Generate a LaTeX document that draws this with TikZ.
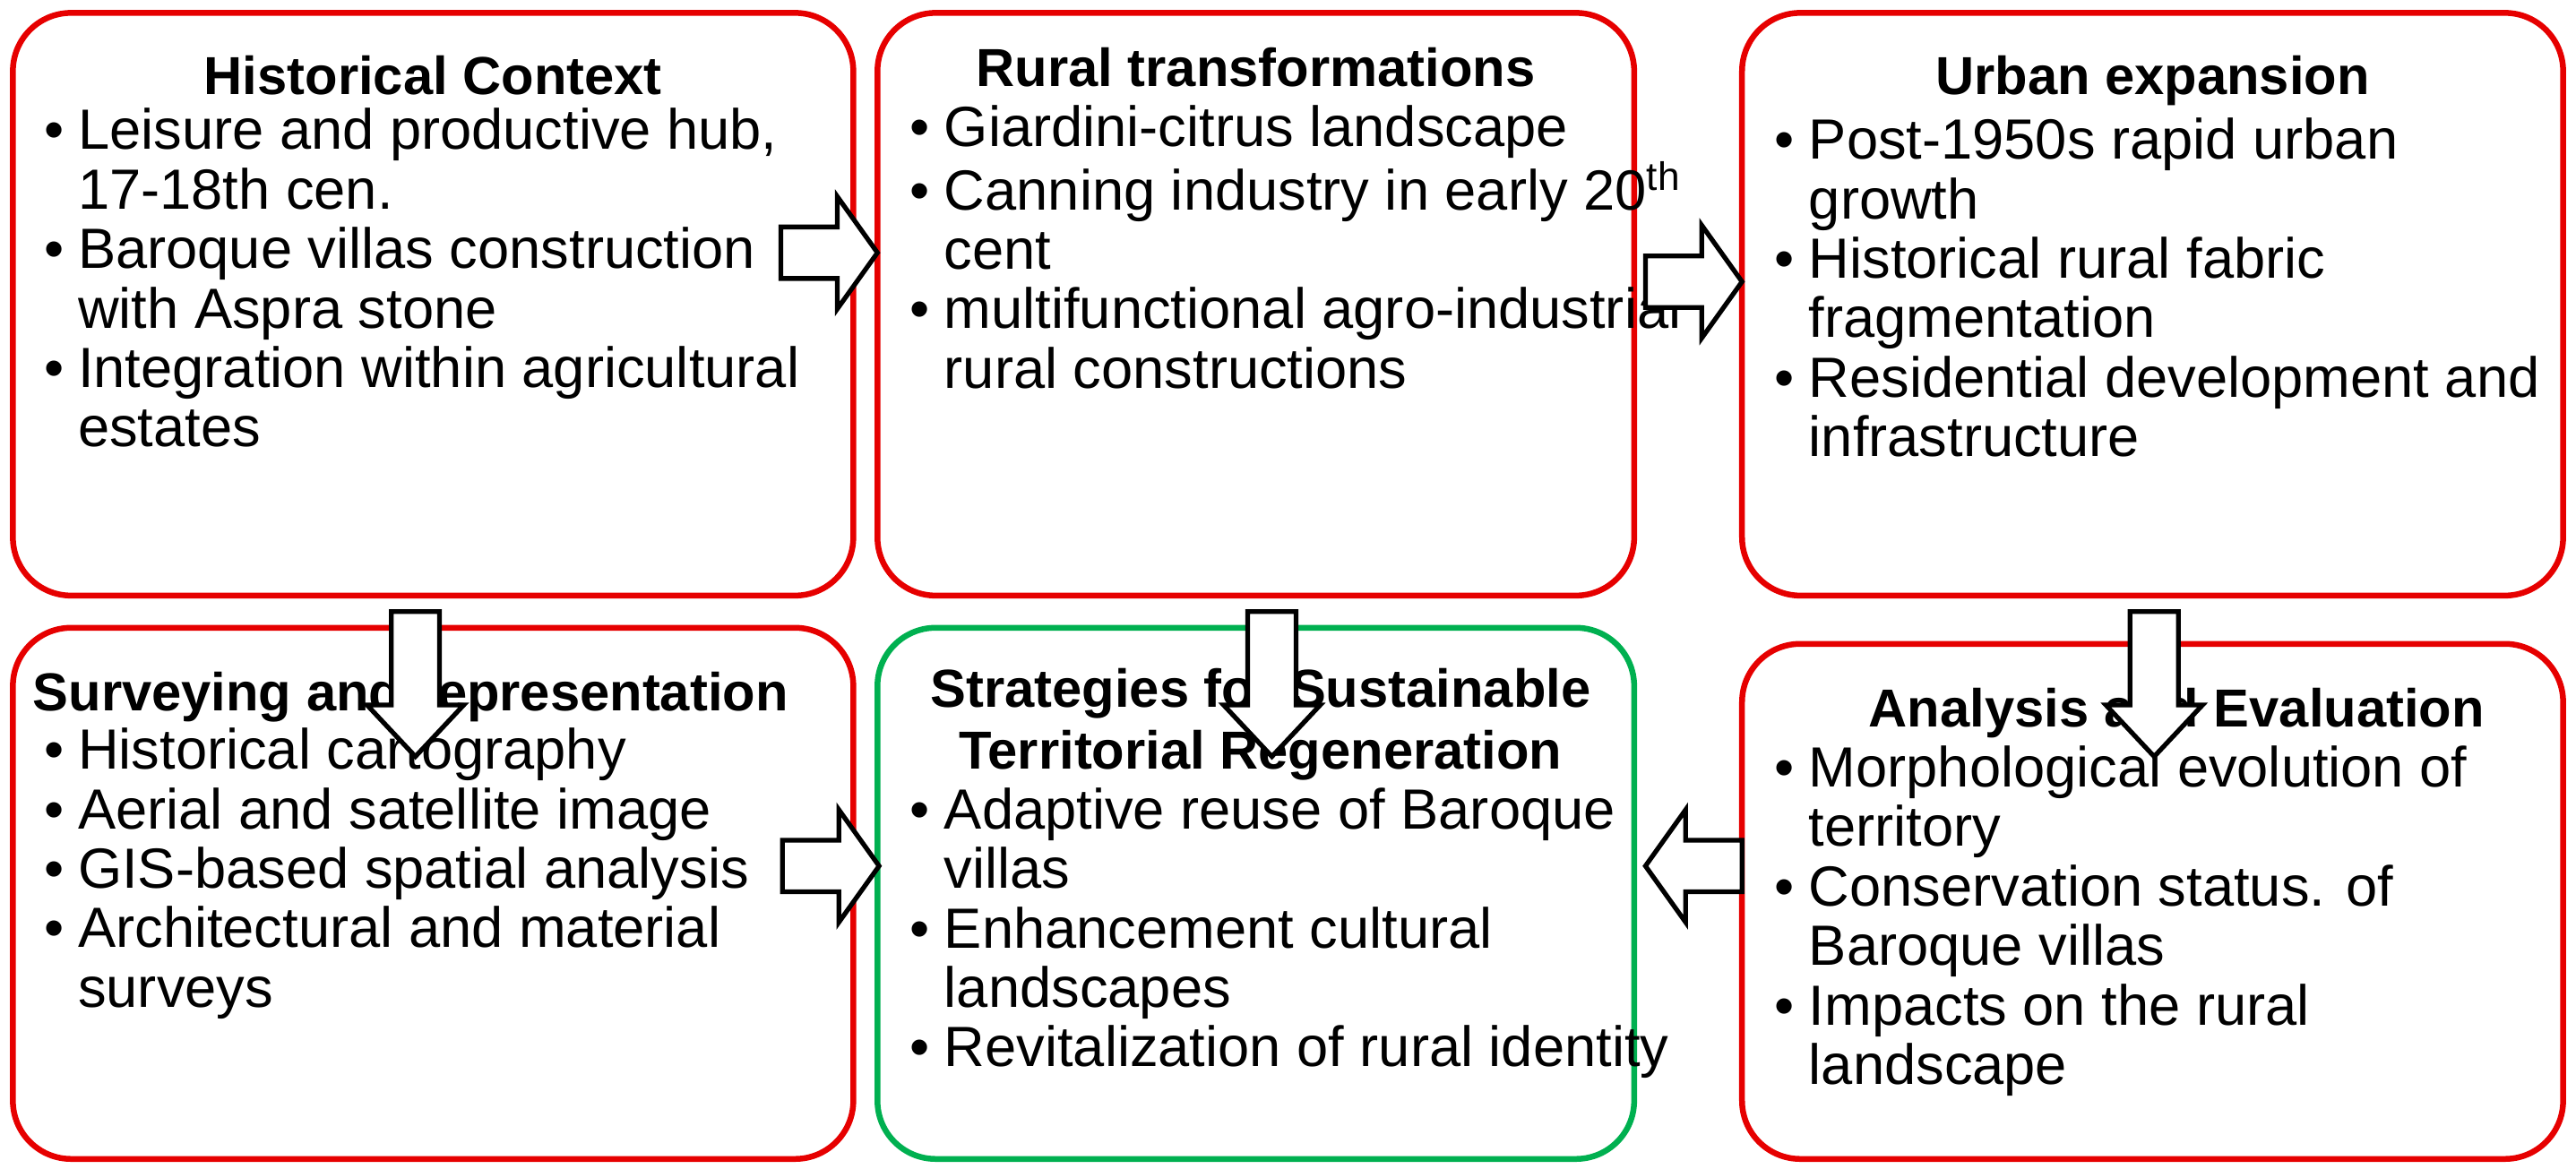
\documentclass[tikz,border=0pt]{standalone}
\usepackage{fontspec}
\setmainfont{Liberation Sans}
\definecolor{bred}{RGB}{230,0,0}
\definecolor{bgreen}{RGB}{0,176,80}
\newcommand\itm[1]{\makebox[0.38cm][l]{\textbullet}#1}
\newcommand\cnt[1]{\hspace*{0.38cm}#1}
% block arrow: x, y, rotation, length, shaft width, head width, head length
\newcommand\barr[7]{\begin{scope}[shift={(#1,#2)},rotate=#3]
 \draw[arr] (-#4/2,-#5/2) -- (#4/2-#7,-#5/2) -- (#4/2-#7,-#6/2) -- (#4/2,0) -- (#4/2-#7,#6/2) -- (#4/2-#7,#5/2) -- (-#4/2,#5/2) -- cycle;
 \end{scope}}
\begin{document}
\begin{tikzpicture}[x=0.01797cm,y=-0.01797cm,
 box/.style={draw=bred,line width=0.065cm,rounded corners=0.65cm,inner sep=0,fill=white},
 ttl/.style={font=\fontsize{17}{19.5}\selectfont\bfseries,align=center,inner sep=0},
 lst/.style={font=\fontsize{18}{18.9}\selectfont,align=left,anchor=north west,inner sep=0},
 arr/.style={draw=black,line width=1.5pt,fill=white,line join=miter}]
\useasboundingbox (0,0) rectangle (1600,725.7);
\node[box,minimum width=522*0.01797cm,minimum height=362*0.01797cm] (b1) at (269,189) {};
\node[box,minimum width=470*0.01797cm,minimum height=362*0.01797cm] (b2) at (780,189) {};
\node[box,minimum width=510*0.01797cm,minimum height=362*0.01797cm] (b3) at (1337,189) {};
\node[box,minimum width=522*0.01797cm,minimum height=330*0.01797cm] (b4) at (269,555) {};
\node[box,draw=bgreen,minimum width=470*0.01797cm,minimum height=330*0.01797cm] (b5) at (780,555) {};
\node[box,minimum width=510*0.01797cm,minimum height=320*0.01797cm] (b6) at (1337,560) {};

\node[ttl] (t1) at (269,47) {Historical Context};
\node[lst] (l1) at (27,67) {\itm{Leisure and productive hub,}\\\cnt{17-18th cen.}\\\itm{Baroque villas construction}\\\cnt{with Aspra stone}\\\itm{Integration within agricultural}\\\cnt{estates}};
\node[ttl] (t2) at (780,42) {Rural transformations};
\node[lst] (l2) at (565,65) {\itm{Giardini-citrus landscape}\\\itm{Canning industry in early 20\textsuperscript{th}}\\\cnt{cent}\\\itm{multifunctional agro-industrial}\\\cnt{rural constructions}};
\node[ttl] (t3) at (1337,50) {Urban expansion};
\node[lst] (l3) at (1102,73) {\itm{Post-1950s rapid urban}\\\cnt{growth}\\\itm{Historical rural fabric}\\\cnt{fragmentation}\\\itm{Residential development and}\\\cnt{infrastructure}};
\node[ttl] (t4) at (255,433) {Surveying and representation};
\node[lst] (l4) at (27,452) {\itm{Historical cartography}\\\itm{Aerial and satellite image}\\\itm{GIS-based spatial analysis}\\\itm{Architectural and material}\\\cnt{surveys}};
\node[ttl] (t5) at (783,450) {Strategies for Sustainable\\Territorial Regeneration};
\node[lst] (l5) at (565,489) {\itm{Adaptive reuse of Baroque}\\\cnt{villas}\\\itm{Enhancement cultural}\\\cnt{landscapes}\\\itm{Revitalization of rural identity}};
\node[ttl] (t6) at (1352,443) {Analysis and Evaluation};
\node[lst] (l6) at (1102,463) {\itm{Morphological evolution of}\\\cnt{territory}\\\itm{Conservation status. of}\\\cnt{Baroque villas}\\\itm{Impacts on the rural}\\\cnt{landscape}};

\barr{515}{157}{0}{60}{32}{70}{25}
\barr{1052}{175}{0}{60}{32}{70}{25}
\barr{258}{425}{270}{90}{30}{60}{32}
\barr{790}{425}{270}{90}{30}{60}{32}
\barr{1338}{425}{270}{90}{30}{60}{32}
\barr{516}{538}{0}{60}{32}{70}{25}
\barr{1052}{538}{180}{60}{32}{70}{25}
\end{tikzpicture}
\end{document}
